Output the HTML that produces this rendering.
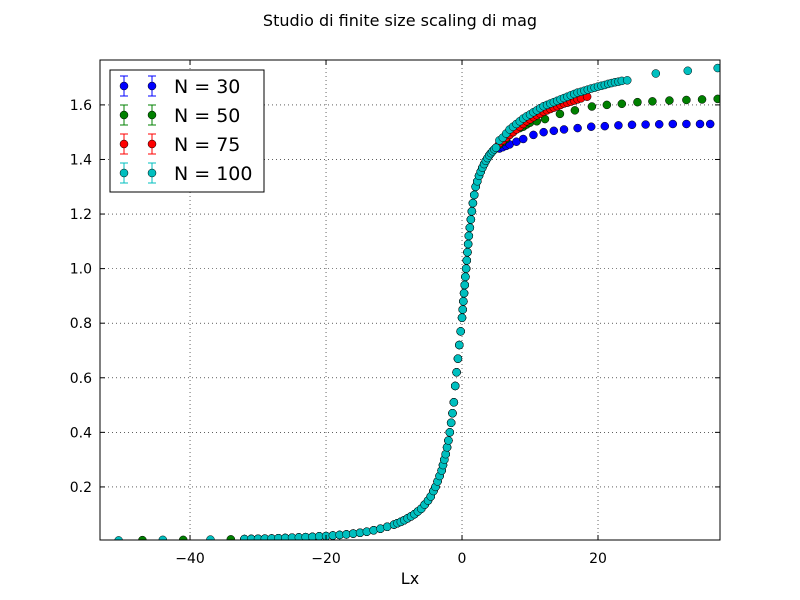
<!DOCTYPE html>
<html><head><meta charset="utf-8"><style>
body{margin:0;background:#fff;}
svg{display:block;font-family:"DejaVu Sans","Liberation Sans",sans-serif;}
</style></head><body>
<svg id="chart" width="800" height="600" viewBox="0 0 800 600">
<rect width="800" height="600" fill="#fff"/>
<text x="400" y="26" text-anchor="middle" font-size="16">Studio di finite size scaling di mag</text>
<g id="grid"></g>
<g id="marks"></g>
<g id="axes"></g>
<text x="410" y="584" text-anchor="middle" font-size="16">Lx</text>
<g id="legend"></g>
</svg>
<script>
// shared collapsed curve (all sizes overlap here)
const commonX = [-32,-31,-30,-29,-28,-27,-26,-25,-24,-23,-22,-21,-20,-19,-18,-17,-16,-15,-14,-13,-12,-11,-10,-9.5,-9,-8.5,-8,-7.5,-7,-6.5,-6,-5.5,-5,-4.6,-4.2,-3.9,-3.6,-3.3,-3,-2.8,-2.6,-2.4,-2.2,-2,-1.8,-1.6,-1.4,-1.2,-1,-0.8,-0.6,-0.4,-0.2,0,0.1,0.2,0.3,0.4,0.5,0.6,0.7,0.8,0.9,1,1.15,1.3,1.45,1.6,1.8,2,2.25,2.5,2.75,3,3.25,3.5,3.75,4,4.25,4.5,4.75,5];
const commonY = [0.009,0.0095,0.010,0.0105,0.011,0.012,0.013,0.014,0.015,0.016,0.017,0.019,0.020,0.022,0.024,0.026,0.029,0.032,0.036,0.041,0.047,0.054,0.062,0.067,0.072,0.078,0.085,0.092,0.10,0.11,0.12,0.135,0.15,0.165,0.185,0.20,0.22,0.24,0.26,0.28,0.30,0.32,0.345,0.37,0.40,0.435,0.47,0.51,0.57,0.62,0.67,0.72,0.77,0.82,0.85,0.88,0.91,0.94,0.97,1.0,1.03,1.06,1.09,1.12,1.15,1.18,1.21,1.24,1.27,1.30,1.32,1.34,1.355,1.37,1.383,1.395,1.405,1.415,1.423,1.43,1.437,1.443];
// per-series tails
const n30X = [5.5,6,6.5,7,8,9,10.5,12,13.5,15,17,19,21,23,25,27,29,31,33,35,36.5];
const n30Y = [1.44,1.445,1.45,1.455,1.465,1.475,1.49,1.50,1.505,1.51,1.515,1.52,1.522,1.525,1.527,1.528,1.529,1.53,1.53,1.53,1.53];
const n50X = [-47,-41,-34,5.5,6,6.5,7,7.5,8,8.5,9,9.5,10,11,12.2,14.4,16.6,19.1,21.3,23.5,25.8,28,30.5,33,35.3,37.6];
const n50Y = [0.005,0.006,0.008,1.455,1.465,1.475,1.49,1.50,1.51,1.515,1.52,1.528,1.535,1.54,1.548,1.567,1.58,1.594,1.60,1.604,1.61,1.613,1.616,1.618,1.62,1.622];
const n75X = [5.5,6,6.5,7,7.5,8,8.5,9,9.5,10,10.5,11,11.5,12,12.5,13,13.5,14,14.5,15,15.5,16,16.5,17,17.5,18.4];
const n75Y = [1.46,1.47,1.48,1.49,1.50,1.51,1.52,1.53,1.54,1.547,1.555,1.562,1.568,1.575,1.58,1.585,1.59,1.595,1.60,1.605,1.608,1.612,1.616,1.62,1.624,1.63];
const n100X = [-50.5,-44,-37,5.5,6,6.5,7,7.5,8,8.5,9,9.5,10,10.5,11,11.5,12,12.5,13,13.5,14,14.5,15,15.5,16,16.5,17,17.5,18,18.5,19,19.5,20,20.5,21,21.5,22,22.5,23,23.5,24.3,28.5,33.2,37.6];
const n100Y = [0.004,0.006,0.007,1.47,1.48,1.495,1.51,1.52,1.53,1.54,1.55,1.558,1.565,1.573,1.58,1.588,1.595,1.60,1.605,1.61,1.615,1.62,1.625,1.63,1.635,1.64,1.645,1.648,1.652,1.656,1.66,1.663,1.667,1.67,1.673,1.677,1.68,1.683,1.685,1.688,1.69,1.715,1.725,1.735];
const seriesNames = ["N = 30","N = 50","N = 75","N = 100"];
const xTicks = [-40,-20,0,20];
const yTicks = [0.2,0.4,0.6,0.8,1.0,1.2,1.4,1.6];

const L=100,R=720,T=60,B=540;
const X0=-53.24,X1=37.94,Y0=0.0055,Y1=1.7645;
const sx=v=>L+(v-X0)/(X1-X0)*(R-L);
const sy=v=>B-(v-Y0)/(Y1-Y0)*(B-T);
const NS="http://www.w3.org/2000/svg";
function mk(tag,attrs,parent){const e=document.createElementNS(NS,tag);for(const k in attrs)e.setAttribute(k,attrs[k]);parent.appendChild(e);return e;}
const grid=document.getElementById('grid'),marks=document.getElementById('marks'),axes=document.getElementById('axes'),leg=document.getElementById('legend');

xTicks.forEach(t=>{const x=sx(t);
 const g=mk('line',{x1:x,x2:x,y1:T,y2:B,stroke:'#000','stroke-width':0.6,'stroke-dasharray':'1,3'},grid);
 
 
 const a=mk('line',{x1:x,x2:x,y1:B,y2:B-5,stroke:'#000'},axes);
 
 
 const b=mk('line',{x1:x,x2:x,y1:T,y2:T+5,stroke:'#000'},axes);
 
 
 const tx=mk('text',{x:x,y:B+23,'text-anchor':'middle','font-size':14},axes);tx.textContent=(t<0?'\u2212'+(-t):t);
 
 
});
yTicks.forEach(t=>{const y=sy(t);
 const g=mk('line',{x1:L,x2:R,y1:y,y2:y,stroke:'#000','stroke-width':0.6,'stroke-dasharray':'1,3'},grid);
 
 
 const a=mk('line',{x1:L,x2:L+5,y1:y,y2:y,stroke:'#000'},axes);
 
 
 const b=mk('line',{x1:R,x2:R-5,y1:y,y2:y,stroke:'#000'},axes);
 
 
 const tx=mk('text',{x:L-8,y:y+5,'text-anchor':'end','font-size':14},axes);tx.textContent=t.toFixed(1);
 
 
});
const frame=mk('rect',{x:L,y:T,width:R-L,height:B-T,fill:'none',stroke:'#000','stroke-width':1},axes);



mk('clipPath',{id:'clip'},document.getElementById('chart'));
mk('rect',{x:L,y:T,width:R-L,height:B-T},document.getElementById('clip'));
marks.setAttribute('clip-path','url(#clip)');

const colors=['#0000ff','#008000','#ff0000','#00bfbf'];
const sets=[[n30X,n30Y],[n50X,n50Y],[n75X,n75Y],[n100X,n100Y]];
const names=['series-n30','series-n50','series-n75','series-n100'];
sets.forEach((s,i)=>{
 const g=mk('g',{},marks);
 
 
 const xs=commonX.concat(s[0]),ys=commonY.concat(s[1]);
 xs.forEach((xv,j)=>{
  const c=mk('circle',{cx:sx(xv),cy:sy(ys[j]),r:4,fill:colors[i],stroke:'#000','stroke-width':0.5},g);
  
  
 });
});

const lb=mk('rect',{x:110,y:70,width:154,height:122,fill:'#fff',stroke:'#000'},leg);


const rows=[86,115,144,173];
seriesNames.forEach((n,i)=>{
 const g=mk('g',{},leg);
 
 
 [124,152].forEach(x=>{
  mk('line',{x1:x,x2:x,y1:rows[i]-10,y2:rows[i]+10,stroke:colors[i]},g);
  mk('line',{x1:x-4,x2:x+4,y1:rows[i]-10,y2:rows[i]-10,stroke:colors[i]},g);
  mk('line',{x1:x-4,x2:x+4,y1:rows[i]+10,y2:rows[i]+10,stroke:colors[i]},g);
  mk('circle',{cx:x,cy:rows[i],r:4,fill:colors[i],stroke:'#000','stroke-width':0.5},g);
 });
 const t=mk('text',{x:174,y:rows[i]+7,'font-size':19},g);t.textContent=n;
 
 
});
</script>
</body></html>
